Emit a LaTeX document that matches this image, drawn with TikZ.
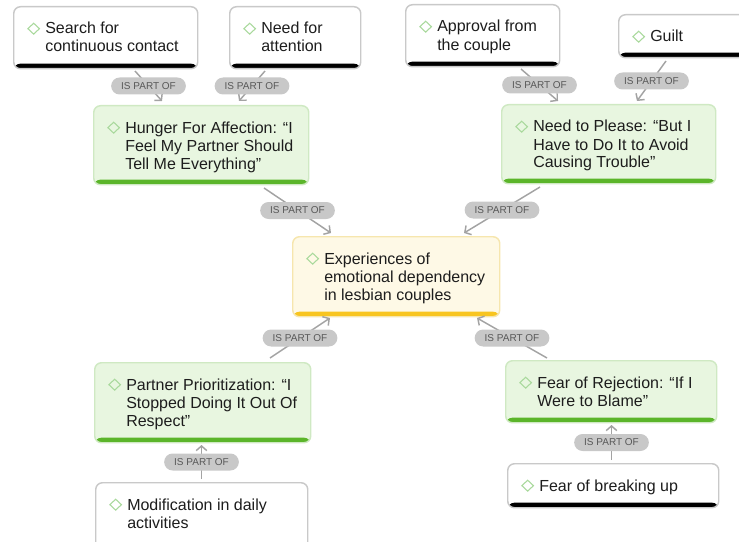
\documentclass[tikz,border=0pt]{standalone}
\usepackage{fontspec}
\setmainfont{Liberation Sans}
\usetikzlibrary{arrows.meta,shapes.geometric}
\definecolor{txt}{HTML}{1D1D1D}
\definecolor{wborder}{HTML}{C9C9C9}
\definecolor{gfill}{HTML}{E8F6E0}
\definecolor{gborder}{HTML}{CFE9C3}
\definecolor{gbarcol}{HTML}{5BB52A}
\definecolor{yfill}{HTML}{FEF9E6}
\definecolor{yborder}{HTML}{F6E6AE}
\definecolor{ybarcol}{HTML}{F8C520}
\definecolor{diam}{HTML}{A9D99C}
\definecolor{pillfill}{HTML}{C8C8C8}
\definecolor{pilltext}{HTML}{585858}
\definecolor{edgecol}{HTML}{A3A3A3}
\tikzset{
  basebox/.style={rectangle, rounded corners=5pt, line width=1.1pt, inner sep=0pt, anchor=north west},
  wbox/.style={basebox, draw=wborder, fill=white,
    path picture={\fill[black] (path picture bounding box.south west) rectangle ([yshift=3.8pt]path picture bounding box.south east);}},
  gbox/.style={basebox, draw=gborder, fill=gfill,
    path picture={\fill[gbarcol] (path picture bounding box.south west) rectangle ([yshift=3.8pt]path picture bounding box.south east);}},
  ybox/.style={basebox, draw=yborder, fill=yfill,
    path picture={\fill[ybarcol] (path picture bounding box.south west) rectangle ([yshift=3.8pt]path picture bounding box.south east);}},
  btext/.style={anchor=base west, inner sep=0pt, text=txt, font=\fontsize{12}{13.5}\selectfont},
  dia/.style={diamond, draw=diam, line width=0.8pt, minimum width=9pt, minimum height=8.5pt, inner sep=0pt},
  pill/.style={rectangle, rounded corners=6.3pt, fill=pillfill, minimum width=56pt, minimum height=12.75pt, inner sep=0pt, text=pilltext, font=\fontsize{7.5}{9}\selectfont},
  edge/.style={draw=edgecol, line width=1.1pt, -{Straight Barb[length=3.5pt,width=8pt,line width=1.1pt]}}
}
\newcommand{\boxlabel}[2]{%
  \node[dia] (#1d) at ([xshift=15.5pt,yshift=-17pt]#1.north west) {};
  \node[btext] (#1t) at ([xshift=24pt,yshift=-21pt]#1.north west) {\begin{tabular}[t]{@{}l@{}}#2\end{tabular}};
}
\begin{document}
\begin{tikzpicture}[x=0.75pt,y=-0.75pt]
\useasboundingbox (0,0) rectangle (739,542);
% boxes
\node[wbox, minimum width=138pt, minimum height=46.5pt] (b1) at (13,6) {};
\node[wbox, minimum width=98.25pt, minimum height=46.5pt] (b2) at (229,6) {};
\node[wbox, minimum width=115.5pt, minimum height=46.5pt] (b3) at (405,4) {};
\node[wbox, minimum width=112.5pt, minimum height=32.25pt] (b4) at (618,14) {};
\node[gbox, minimum width=161.25pt, minimum height=59.25pt] (b5) at (93,105) {};
\node[gbox, minimum width=160.5pt, minimum height=59.25pt] (b6) at (501,104) {};
\node[ybox, minimum width=155.25pt, minimum height=60pt] (b7) at (292,236) {};
\node[gbox, minimum width=162pt, minimum height=60pt] (b8) at (94,362) {};
\node[gbox, minimum width=158.25pt, minimum height=46.5pt] (b9) at (505,360) {};
\node[wbox, minimum width=159pt, minimum height=60pt] (b10) at (95,482) {};
\node[wbox, minimum width=158.25pt, minimum height=33pt] (b11) at (507,463) {};
% texts
\boxlabel{b1}{Search for\\continuous contact}
\boxlabel{b2}{Need for\\attention}
\boxlabel{b3}{Approval from\\the couple}
\boxlabel{b4}{Guilt}
\boxlabel{b5}{Hunger For Affection: “I\\Feel My Partner Should\\Tell Me Everything”}
\boxlabel{b6}{Need to Please: “But I\\Have to Do It to Avoid\\Causing Trouble”}
\boxlabel{b7}{Experiences of\\emotional dependency\\in lesbian couples}
\boxlabel{b8}{Partner Prioritization: “I\\Stopped Doing It Out Of\\Respect”}
\boxlabel{b9}{Fear of Rejection: “If I\\Were to Blame”}
\boxlabel{b10}{Modification in daily\\activities}
\boxlabel{b11}{Fear of breaking up}
% connector end points
\coordinate (e1a) at (135,71);  \coordinate (e1b) at (162,101);
\coordinate (e2a) at (265,71);  \coordinate (e2b) at (239,101);
\coordinate (e3a) at (521,69);  \coordinate (e3b) at (558,101);
\coordinate (e4a) at (666,61);  \coordinate (e4b) at (637,101);
\coordinate (e5a) at (264,188); \coordinate (e5b) at (331,233);
\coordinate (e6a) at (540,187); \coordinate (e6b) at (464,233);
\coordinate (e7a) at (270,358); \coordinate (e7b) at (330,318);
\coordinate (e8a) at (547,358); \coordinate (e8b) at (477,318);
\coordinate (e9a) at (201.5,479); \coordinate (e9b) at (201.5,445);
\coordinate (e10a) at (611.5,460); \coordinate (e10b) at (611.5,425);
% connectors
\draw[edge] (e1a) -- node[pill] (p1) {IS PART OF} (e1b);
\draw[edge] (e2a) -- node[pill] (p2) {IS PART OF} (e2b);
\draw[edge] (e3a) -- node[pill] (p3) {IS PART OF} (e3b);
\draw[edge] (e4a) -- node[pill] (p4) {IS PART OF} (e4b);
\draw[edge] (e5a) -- node[pill] (p5) {IS PART OF} (e5b);
\draw[edge] (e6a) -- node[pill] (p6) {IS PART OF} (e6b);
\draw[edge] (e7a) -- node[pill] (p7) {IS PART OF} (e7b);
\draw[edge] (e8a) -- node[pill] (p8) {IS PART OF} (e8b);
\draw[edge] (e9a) -- node[pill, pos=0.5] (p9) {IS PART OF} (e9b);
\draw[edge] (e10a) -- node[pill, pos=0.5] (p10) {IS PART OF} (e10b);
\end{tikzpicture}
\end{document}
